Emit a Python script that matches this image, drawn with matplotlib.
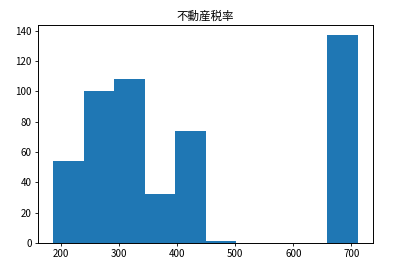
import matplotlib
matplotlib.use("Agg")
import matplotlib.pyplot as plt
import numpy as np

plt.rcParams['font.family'] = ['Noto Sans CJK JP', 'DejaVu Sans']

title = "不動産税率"
bin_edges = [187.0, 239.4, 291.8, 344.2, 396.6, 449.0, 501.4, 553.8, 606.2, 658.6, 711.0]
counts = [54, 100, 108, 32, 74, 1, 0, 0, 0, 137]

fig = plt.figure(figsize=(4, 2.64), dpi=100)
ax = fig.add_axes([0.095, 0.08, 0.8375, 0.825])
ax.hist(bin_edges[:-1], bins=bin_edges, weights=counts, color='#1f77b4')
ax.set_title(title, fontsize=8.3, pad=4)
ax.tick_params(labelsize=7, length=2.5, width=0.6, pad=2)
for s in ax.spines.values():
    s.set_linewidth(0.7)
ax.set_yticks([0, 20, 40, 60, 80, 100, 120, 140])
ax.set_xticks([200, 300, 400, 500, 600, 700])
fig.savefig("out.png", dpi=100)
